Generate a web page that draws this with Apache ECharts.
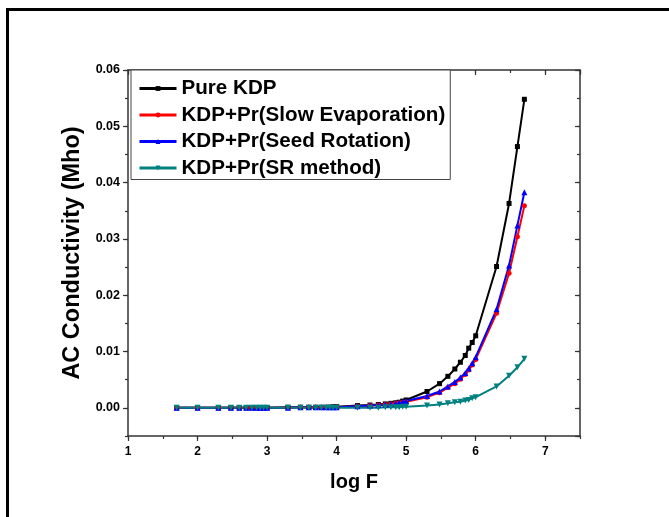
<!DOCTYPE html>
<html>
<head>
<meta charset="utf-8">
<script src="https://cdn.jsdelivr.net/npm/echarts@6/dist/echarts.min.js"></script>
<style>
html,body{margin:0;padding:0;background:#fff;}
#c{width:669px;height:517px;}
</style>
</head>
<body>
<div id="c"></div>
<script>
var logF = [1.70, 2.00, 2.30, 2.48, 2.60, 2.70, 2.78, 2.85, 2.90, 2.95, 3.00, 3.30, 3.48, 3.60, 3.70, 3.78, 3.85, 3.90, 3.95, 4.00,
            4.30, 4.48, 4.60, 4.70, 4.78, 4.85, 4.90, 4.95, 5.00, 5.30, 5.48, 5.60, 5.70, 5.78, 5.85, 5.90, 5.95, 6.00,
            6.30, 6.48, 6.60, 6.70];
var pureKDP = [0.0000, 0.0000, 0.0000, 0.0000, 0.0000, 0.0000, 0.0000, 0.0000, 0.0000, 0.0000, 0.0000, 0.0001, 0.0001, 0.0001, 0.0001, 0.0001, 0.0001, 0.0001, 0.0002, 0.0002,
               0.0004, 0.0005, 0.0006, 0.0007, 0.0008, 0.0009, 0.0010, 0.0012, 0.0014, 0.0029, 0.0043, 0.0056, 0.0069, 0.0081, 0.0093, 0.0106, 0.0116, 0.0128,
               0.0251, 0.0363, 0.0464, 0.0548];
var slowEvap = [0.0000, 0.0000, 0.0000, 0.0000, 0.0000, 0.0000, 0.0000, 0.0000, 0.0000, 0.0000, 0.0000, 0.0000, 0.0001, 0.0001, 0.0001, 0.0001, 0.0001, 0.0001, 0.0001, 0.0001,
                0.0003, 0.0004, 0.0005, 0.0006, 0.0007, 0.0008, 0.0009, 0.0010, 0.0011, 0.0019, 0.0027, 0.0036, 0.0043, 0.0051, 0.0059, 0.0067, 0.0076, 0.0086,
                0.0168, 0.0239, 0.0304, 0.0359];
var seedRot = [0.0000, 0.0000, 0.0000, 0.0000, 0.0000, 0.0000, 0.0000, 0.0000, 0.0000, 0.0000, 0.0000, 0.0000, 0.0001, 0.0001, 0.0001, 0.0001, 0.0001, 0.0001, 0.0001, 0.0001,
               0.0003, 0.0004, 0.0005, 0.0006, 0.0007, 0.0008, 0.0009, 0.0011, 0.0012, 0.0021, 0.0029, 0.0038, 0.0046, 0.0054, 0.0062, 0.0070, 0.0079, 0.0090,
               0.0175, 0.0253, 0.0324, 0.0383];
var srMethod = [0.0000, 0.0000, 0.0000, 0.0000, 0.0000, 0.0000, 0.0000, 0.0000, 0.0000, 0.0000, 0.0000, 0.0000, 0.0000, 0.0000, 0.0000, 0.0000, 0.0000, 0.0000, 0.0000, 0.0000,
                0.0000, 0.0000, 0.0000, 0.0001, 0.0001, 0.0001, 0.0001, 0.0002, 0.0002, 0.0004, 0.0006, 0.0008, 0.0010, 0.0011, 0.0013, 0.0014, 0.0017, 0.0019,
                0.0038, 0.0057, 0.0072, 0.0087];
var seriesNames = ['Pure KDP', 'KDP+Pr(Slow Evaporation)', 'KDP+Pr(Seed Rotation)', 'KDP+Pr(SR method)'];
var xTickLabels = ['1', '2', '3', '4', '5', '6', '7'];
var yTickLabels = ['0.00', '0.01', '0.02', '0.03', '0.04', '0.05', '0.06'];

function pts(arr) { return logF.map(function (x, i) { return [x, arr[i]]; }); }

var FONT = '"Liberation Sans", Arial, sans-serif';
var AX = '#333';
var chart = echarts.init(document.getElementById('c'), null, {renderer: 'canvas'});

function xAx(pos, interval, len, inside, labels, line) {
  return {
    type: 'value', position: pos, min: 1, max: 7.5, interval: interval,
    axisLine: {show: line, onZero: false, lineStyle: {color: AX, width: 1.5}},
    axisTick: {show: true, inside: inside, length: len, lineStyle: {color: AX, width: 1.2}},
    axisLabel: labels ? {
      show: true, margin: 10, color: '#000', fontFamily: FONT, fontWeight: 'bold', fontSize: 12,
      showMaxLabel: false,
      formatter: function (v) { var s = String(Math.round(v)); return xTickLabels.indexOf(s) >= 0 && Math.abs(v - Math.round(v)) < 1e-9 ? s : ''; }
    } : {show: false},
    splitLine: {show: false}
  };
}
function yAx(pos, minor, len, inside, labels, line) {
  var a = {
    type: 'value', position: pos, min: -0.005, max: 0.06,
    axisLine: {show: line, onZero: false, lineStyle: {color: AX, width: 1.5}},
    axisTick: {show: true, inside: inside, length: len, lineStyle: {color: AX, width: 1.2}},
    axisLabel: labels ? {
      show: true, margin: 8, color: '#000', fontFamily: FONT, fontWeight: 'bold', fontSize: 12.5,
      showMinLabel: false,
      formatter: function (v) { var s = v.toFixed(2); return (v >= -1e-9 && yTickLabels.indexOf(s) >= 0) ? s : ''; }
    } : {show: false},
    splitLine: {show: false}
  };
  if (minor) { a.interval = 0.005; } else { a.splitNumber = 6; }
  return a;
}

var xA0 = xAx('bottom', 1, 5, false, true, true);
xA0.name = 'log F'; xA0.nameLocation = 'middle'; xA0.nameGap = 36;
xA0.nameTextStyle = {fontFamily: FONT, fontWeight: 'bold', fontSize: 20, color: '#000'};
var yA0 = yAx('left', false, 5, false, true, true);
yA0.name = 'AC Conductivity (Mho)'; yA0.nameLocation = 'middle'; yA0.nameGap = 43;
yA0.nameTextStyle = {fontFamily: FONT, fontWeight: 'bold', fontSize: 23.5, color: '#000'};

var option = {
  backgroundColor: '#fff',
  animation: false,
  grid: {left: 128, right: 89, top: 70, bottom: 81},
  xAxis: [
    xA0,
    xAx('bottom', 0.5, 3, false, false, false),
    xAx('top', 1, 5, true, false, true),
    xAx('top', 0.5, 3, true, false, false)
  ],
  yAxis: [
    yA0,
    yAx('left', true, 3, false, false, false),
    yAx('right', false, 5, true, false, true),
    yAx('right', true, 3, true, false, false)
  ],
  legend: {
    orient: 'vertical', left: 131, top: 70,
    padding: [8, 5, 1, 7],
    itemWidth: 37, itemHeight: 6, itemGap: 5.5,
    backgroundColor: '#fff',
    borderColor: '#444', borderWidth: 1, borderRadius: 0,
    lineStyle: {width: 3},
    textStyle: {fontFamily: FONT, fontWeight: 'bold', fontSize: 20.6, lineHeight: 20, color: '#000'},
    data: seriesNames
  },
  graphic: [{
    type: 'rect', silent: true, z: 100,
    shape: {x: 7.5, y: 9.5, width: 720, height: 620},
    style: {fill: 'none', stroke: '#000', lineWidth: 3}
  }],
  series: [
    {name: seriesNames[0], type: 'line', data: pts(pureKDP), symbol: 'rect', symbolSize: 5,
     itemStyle: {color: '#000000'}, lineStyle: {color: '#000000', width: 2}},
    {name: seriesNames[1], type: 'line', data: pts(slowEvap), symbol: 'circle', symbolSize: 5,
     itemStyle: {color: '#ff0000'}, lineStyle: {color: '#ff0000', width: 2}},
    {name: seriesNames[2], type: 'line', data: pts(seedRot), symbol: 'triangle', symbolSize: 6,
     itemStyle: {color: '#0000ff'}, lineStyle: {color: '#0000ff', width: 2}},
    {name: seriesNames[3], type: 'line', data: pts(srMethod), symbol: 'triangle', symbolRotate: 180, symbolSize: 6,
     itemStyle: {color: '#008080'}, lineStyle: {color: '#008080', width: 2}}
  ]
};
option.series.forEach(function (s) { s.showAllSymbol = true; s.z = 3; });
chart.setOption(option);
</script>
</body>
</html>
